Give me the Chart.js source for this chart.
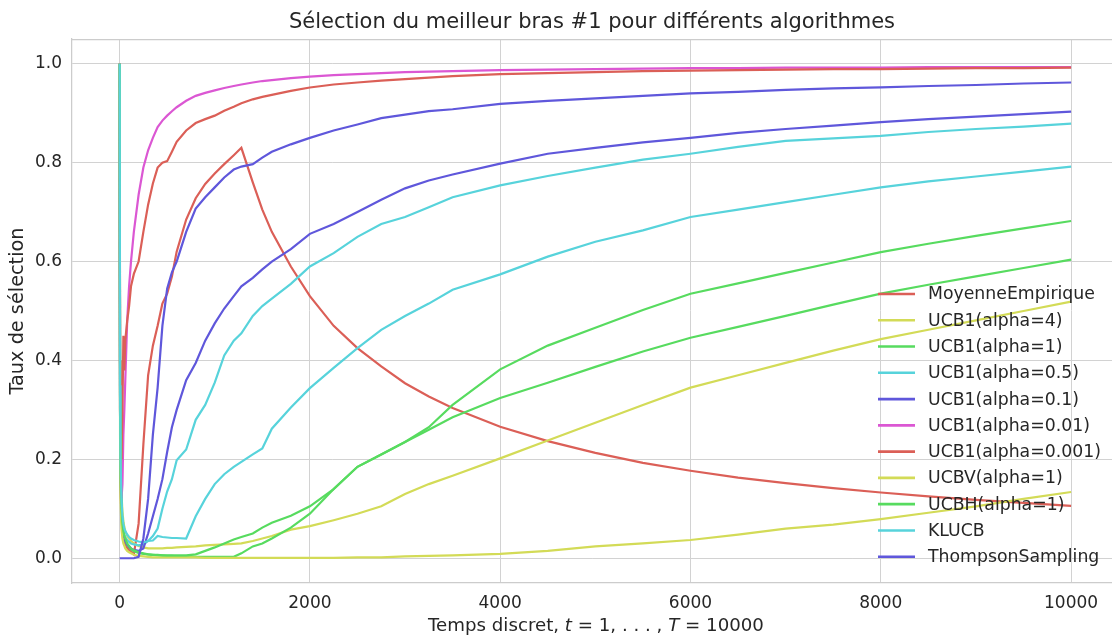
<!DOCTYPE html>
<html><head><meta charset="utf-8">
<script src="https://cdn.jsdelivr.net/npm/chart.js@4.4.1/dist/chart.umd.min.js"></script>
<style>html,body{margin:0;padding:0;background:#fff;overflow:hidden}canvas{display:block}</style>
</head><body>
<canvas id="c" width="1112" height="637"></canvas>
<script>
// Time steps (x values)
const T = [1,5,10,20,30,40,50,60,80,100, 120,150,200,250,300,350,400,450,500,550,
  600,700,800,900,1000,1100,1200,1280,1400,1500, 1600,1800,2000,2250,2500,2750,3000,3250,3500,4000,
  4500,5000,5500,6000,6500,7000,7500,8000,8500,9000, 9500,10000];

const MOYENNE = [1,0.3,0.15,0.08,0.055,0.04,0.034,0.028,0.021,0.017,
  0.014,0.008,0.07,0.23,0.37,0.43,0.47,0.515,0.535,0.57,
  0.62,0.685,0.728,0.757,0.778,0.797,0.815,0.83,0.76,0.705,
  0.66,0.59,0.53,0.47,0.425,0.388,0.354,0.327,0.304,0.266,
  0.237,0.213,0.193,0.177,0.163,0.152,0.142,0.133,0.125,0.118,
  0.112,0.106];
const UCB1_A4 = [1,0.4,0.22,0.13,0.095,0.075,0.063,0.055,0.045,0.04,
  0.035,0.03,0.025,0.022,0.02,0.02,0.02,0.02,0.021,0.021,
  0.022,0.023,0.024,0.026,0.027,0.028,0.029,0.03,0.035,0.04,
  0.045,0.058,0.065,0.077,0.09,0.105,0.13,0.15,0.167,0.202,
  0.238,0.274,0.31,0.345,0.37,0.395,0.42,0.443,0.462,0.481,
  0.5,0.519];
const UCB1_A1 = [1,0.3,0.16,0.09,0.06,0.048,0.04,0.035,0.027,0.022,
  0.018,0.014,0.011,0.009,0.008,0.007,0.006,0.006,0.005,0.005,
  0.004,0.004,0.003,0.003,0.003,0.003,0.003,0.01,0.024,0.03,
  0.04,0.062,0.09,0.14,0.185,0.21,0.235,0.265,0.31,0.382,
  0.43,0.466,0.502,0.535,0.556,0.577,0.598,0.619,0.636,0.652,
  0.667,0.682];
const UCB1_A05 = [1,0.33,0.18,0.1,0.07,0.055,0.048,0.043,0.037,0.033,
  0.03,0.028,0.026,0.028,0.035,0.045,0.06,0.1,0.135,0.16,
  0.198,0.22,0.28,0.31,0.355,0.41,0.44,0.455,0.49,0.51,
  0.525,0.555,0.59,0.617,0.65,0.676,0.69,0.71,0.73,0.754,
  0.773,0.79,0.806,0.818,0.832,0.844,0.849,0.854,0.862,0.868,
  0.873,0.879];
const UCB1_A01 = [1,0.3,0.16,0.09,0.065,0.05,0.04,0.035,0.028,0.024,
  0.02,0.017,0.015,0.02,0.05,0.085,0.12,0.16,0.215,0.265,
  0.3,0.36,0.395,0.44,0.475,0.505,0.53,0.55,0.567,0.584,
  0.6,0.625,0.656,0.676,0.7,0.725,0.748,0.764,0.776,0.798,
  0.818,0.83,0.841,0.85,0.86,0.868,0.875,0.882,0.888,0.893,
  0.898,0.903];
const UCB1_A001 = [1,0.35,0.2,0.12,0.15,0.25,0.3,0.36,0.48,0.55,
  0.6,0.66,0.735,0.79,0.825,0.85,0.872,0.885,0.895,0.904,
  0.912,0.925,0.935,0.941,0.946,0.951,0.955,0.958,0.962,0.965,
  0.967,0.971,0.974,0.977,0.979,0.981,0.983,0.984,0.985,0.987,
  0.988,0.989,0.99,0.991,0.991,0.992,0.992,0.992,0.993,0.993,
  0.993,0.993];
const UCB1_A0001 = [1,0.4,0.25,0.2,0.3,0.45,0.38,0.44,0.48,0.51,
  0.55,0.575,0.6,0.66,0.715,0.758,0.79,0.8,0.803,0.822,
  0.842,0.865,0.88,0.888,0.895,0.905,0.913,0.92,0.928,0.933,
  0.937,0.945,0.952,0.958,0.962,0.966,0.969,0.972,0.975,0.979,
  0.981,0.983,0.985,0.986,0.987,0.988,0.989,0.989,0.99,0.991,
  0.991,0.992];
const UCBV_A1 = [1,0.25,0.12,0.06,0.04,0.03,0.025,0.02,0.015,0.012,
  0.01,0.007,0.005,0.004,0.003,0.002,0.002,0.002,0.002,0.002,
  0.002,0.002,0.002,0.001,0.001,0.001,0.001,0.001,0.001,0.001,
  0.001,0.001,0.001,0.001,0.002,0.002,0.004,0.005,0.006,0.009,
  0.015,0.024,0.03,0.037,0.048,0.06,0.068,0.079,0.092,0.105,
  0.12,0.134];
const UCBH_A1 = [1,0.33,0.18,0.1,0.07,0.055,0.045,0.04,0.03,0.025,
  0.02,0.016,0.012,0.01,0.008,0.007,0.007,0.006,0.006,0.006,
  0.006,0.006,0.008,0.015,0.022,0.03,0.038,0.043,0.05,0.062,
  0.072,0.086,0.105,0.14,0.185,0.21,0.235,0.26,0.285,0.324,
  0.355,0.387,0.418,0.446,0.468,0.49,0.513,0.535,0.553,0.57,
  0.587,0.604];
const KLUCB = [1,0.35,0.2,0.12,0.085,0.07,0.06,0.055,0.048,0.043,
  0.04,0.037,0.034,0.032,0.035,0.036,0.045,0.043,0.042,0.041,
  0.041,0.04,0.085,0.12,0.15,0.17,0.185,0.195,0.21,0.222,
  0.262,0.305,0.344,0.385,0.425,0.462,0.49,0.515,0.543,0.574,
  0.61,0.64,0.663,0.69,0.705,0.72,0.735,0.75,0.762,0.772,
  0.782,0.792];
const THOMPSON = [0,0,0,0,0,0,0,0,0,0,
  0,0,0.003,0.04,0.12,0.25,0.345,0.47,0.545,0.578,
  0.6,0.66,0.707,0.73,0.75,0.77,0.786,0.792,0.797,0.81,
  0.822,0.837,0.85,0.865,0.877,0.89,0.897,0.904,0.908,0.919,
  0.925,0.93,0.935,0.94,0.943,0.947,0.95,0.952,0.955,0.957,
  0.96,0.962];

const LABELS = ['MoyenneEmpirique','UCB1(alpha=4)','UCB1(alpha=1)','UCB1(alpha=0.5)','UCB1(alpha=0.1)',
  'UCB1(alpha=0.01)','UCB1(alpha=0.001)','UCBV(alpha=1)','UCBH(alpha=1)','KLUCB','ThompsonSampling'];
const COLORS = ['#db5f57','#d3db57','#57db5f','#57d3db','#5f57db','#db57d3',
  '#db5f57','#d3db57','#57db5f','#57d3db','#5f57db'];
const SERIES = [MOYENNE,UCB1_A4,UCB1_A1,UCB1_A05,UCB1_A01,UCB1_A001,UCB1_A0001,UCBV_A1,UCBH_A1,KLUCB,THOMPSON];

const X_TICKS = [0,2000,4000,6000,8000,10000];
const Y_TICKS = [0.0,0.2,0.4,0.6,0.8,1.0];
const TITLE = 'Sélection du meilleur bras #1 pour différents algorithmes';
const Y_TITLE = 'Taux de sélection';
const X_TITLE_PARTS = [['Temps discret, ',false],['t',true],[' = 1, . . . , ',false],['T',true],[' = 10000',false]];

const FONT = '"DejaVu Sans"';
const TEXT = '#262626';
const GRID = '#d2d2d2';

const datasets = SERIES.map((vals,i)=>({
  label: LABELS[i],
  data: T.map((t,j)=>({x:t,y:vals[j]})),
  borderColor: COLORS[i],
  backgroundColor: COLORS[i],
  borderWidth: 2.2,
  pointRadius: 0,
  tension: 0,
  fill: false,
  order: SERIES.length-1-i
}));

const framePlugin = {
  id:'frame',
  beforeDatasetsDraw(chart){
    const {ctx, chartArea:a} = chart;
    ctx.save();
    ctx.strokeStyle = '#cccccc'; ctx.lineWidth = 1.25;
    ctx.beginPath(); ctx.moveTo(a.left, a.top+0.5); ctx.lineTo(a.right, a.top+0.5); ctx.stroke();
    ctx.restore();
  }
};
const legendPlugin = {
  id:'inlegend',
  afterDatasetsDraw(chart){
    const ctx = chart.ctx;
    ctx.save();
    ctx.font = '17.3px ' + FONT;
    ctx.textBaseline = 'middle';
    ctx.textAlign = 'left';
    chart.data.datasets.forEach((ds,i)=>{
      const y = 294 + i*26.27;
      ctx.strokeStyle = ds.borderColor; ctx.lineWidth = 2.6;
      ctx.beginPath(); ctx.moveTo(878,y); ctx.lineTo(915,y); ctx.stroke();
      ctx.fillStyle = TEXT;
      ctx.fillText(ds.label, 928, y+1);
    });
    ctx.restore();
  }
};
const xTitlePlugin = {
  id:'xtitle',
  afterDraw(chart){
    const ctx = chart.ctx;
    ctx.save();
    const fN = '18.2px ' + FONT, fI = 'italic 18.2px ' + FONT;
    let total = 0;
    const w = X_TITLE_PARTS.map(([s,it])=>{ctx.font = it?fI:fN; const m = ctx.measureText(s).width; total += m; return m;});
    let x = 596 - total/2;
    ctx.fillStyle = TEXT; ctx.textBaseline = 'middle'; ctx.textAlign = 'left';
    X_TITLE_PARTS.forEach(([s,it],k)=>{ctx.font = it?fI:fN; ctx.fillText(s,x,626); x += w[k];});
    ctx.restore();
  }
};

Chart.defaults.font.family = FONT;
Chart.defaults.color = TEXT;

new Chart(document.getElementById('c'), {
  type:'line',
  data:{datasets},
  plugins:[framePlugin, legendPlugin, xTitlePlugin],
  options:{
    responsive:false, animation:false, devicePixelRatio:1,
    layout:{padding:0},
    plugins:{
      legend:{display:false},
      tooltip:{enabled:false},
      title:{display:true, text:TITLE, fullSize:false, color:TEXT,
        font:{family:FONT, size:21, weight:'normal'}, padding:{top:10,bottom:3.8}}
    },
    scales:{
      x:{type:'linear', min:-500, max:10430, position:'bottom',
        afterFit(s){ s.height = 54; },
        afterBuildTicks(s){ s.ticks = X_TICKS.map(v=>({value:v})); },
        ticks:{font:{size:17}, color:TEXT, padding:10, maxRotation:0, autoSkip:false,
          callback:(v)=>String(v)},
        grid:{color:GRID, lineWidth:1, drawTicks:false},
        border:{display:true, color:'#cccccc', width:1.25},
        title:{display:false}
      },
      y:{type:'linear', min:-0.05, max:1.05,
        afterFit(s){ s.width = 72; },
        afterBuildTicks(s){ s.ticks = Y_TICKS.map(v=>({value:v})); },
        ticks:{font:{size:17}, color:TEXT, padding:10, callback:(v)=>Number(v).toFixed(1)},
        grid:{color:GRID, lineWidth:1, drawTicks:false},
        border:{display:true, color:'#cccccc', width:1.25},
        title:{display:true, text:Y_TITLE, color:TEXT, font:{size:19.3}, padding:{top:6.5,bottom:0}}
      }
    }
  }
});
</script>
</body></html>
